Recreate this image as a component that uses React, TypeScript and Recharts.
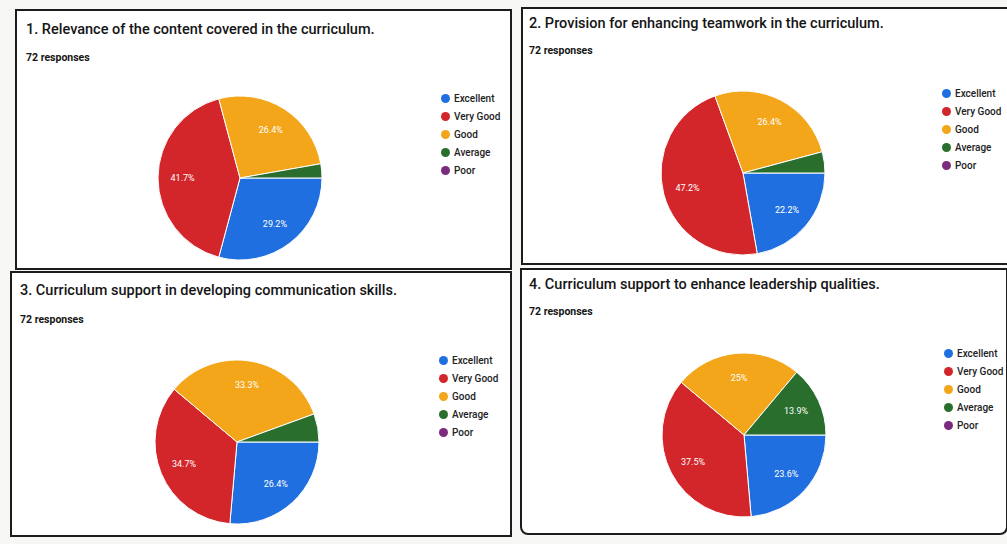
import React from 'react';
import { PieChart, Pie, Cell, Legend } from 'recharts';

const categories = ['Excellent', 'Very Good', 'Good', 'Average', 'Poor'];
const colors = ['#1f6fe0', '#d3262b', '#f3a619', '#2a6e2e', '#7b2b7d'];

const titles = [
  '1. Relevance of the content covered in the curriculum.',
  '2. Provision for enhancing teamwork in the curriculum.',
  '3. Curriculum support in developing communication skills.',
  '4. Curriculum support to enhance leadership qualities.',
];
const responses = ['72 responses', '72 responses', '72 responses', '72 responses'];

// counts out of 72, order: Excellent, Very Good, Good, Average, Poor
const q1Values = [21, 30, 19, 2, 0];
const q2Values = [16, 34, 19, 3, 0];
const q3Values = [19, 25, 24, 4, 0];
const q4Values = [17, 27, 18, 10, 0];
const allValues = [q1Values, q2Values, q3Values, q4Values];

type PanelLayout = {
  left: number; top: number; width: number; height: number;
  titleX: number; titleY: number; respY: number;
  cx: number; cy: number; legendX: number; legendY: number;
  radius?: string;
};

const layouts: PanelLayout[] = [
  { left: 15, top: 9, width: 497, height: 261, titleX: 9, titleY: 10, respY: 40, cx: 223, cy: 167, legendX: 424, legendY: 79 },
  { left: 521, top: 7, width: 492, height: 258, titleX: 6, titleY: 6, respY: 35, cx: 220, cy: 164, legendX: 419, legendY: 76 },
  { left: 10, top: 271, width: 502, height: 266, titleX: 8, titleY: 9, respY: 40, cx: 225, cy: 169, legendX: 427, legendY: 79 },
  { left: 520, top: 268, width: 488, height: 267, titleX: 7, titleY: 6, respY: 35, cx: 222, cy: 165, legendX: 422, legendY: 75, radius: '0 0 8px 8px' },
];

const RAD = Math.PI / 180;

const renderLabel = (props: any) => {
  const { cx, cy, midAngle, outerRadius, percent } = props;
  if (!percent || percent < 0.06) return null;
  const r = outerRadius * 0.7;
  const x = cx + r * Math.cos(-midAngle * RAD);
  const y = cy + r * Math.sin(-midAngle * RAD);
  const txt = `${(Math.round(percent * 1000) / 10).toString()}%`;
  return (
    <text x={x} y={y} fill="#ffffff" fontSize={9} fontFamily="Roboto, Arial, sans-serif" textAnchor="middle" dominantBaseline="central">
      {txt}
    </text>
  );
};

const LegendContent = (props: any) => {
  const { payload } = props;
  return (
    <div style={{ fontFamily: 'Roboto, Arial, sans-serif' }}>
      {(payload || []).map((p: any, i: number) => (
        <div key={i} style={{ display: 'flex', alignItems: 'center', height: 17.8 }}>
          <span style={{ width: 9, height: 9, borderRadius: '50%', background: p.color, display: 'inline-block', marginRight: 4 }} />
          <span style={{ fontSize: 10, fontWeight: 500, color: '#222', whiteSpace: 'nowrap' }}>{p.value}</span>
        </div>
      ))}
    </div>
  );
};

const Panel = ({ idx }: { idx: number }) => {
  const L = layouts[idx];
  const data = categories.map((c, i) => ({ name: c, value: allValues[idx][i] }));
  return (
    <div
      style={{
        position: 'absolute', left: L.left, top: L.top, width: L.width, height: L.height,
        border: '2px solid #1c1c1c', boxSizing: 'border-box', background: '#fff', overflow: 'hidden',
        borderRadius: L.radius || 0,
      }}
    >
      <div style={{ position: 'absolute', left: L.titleX, top: L.titleY, fontFamily: 'Roboto, Arial, sans-serif', fontSize: 14.5, fontWeight: 500, color: '#151515', whiteSpace: 'nowrap', zIndex: 2 }}>
        {titles[idx]}
      </div>
      <div style={{ position: 'absolute', left: L.titleX, top: L.respY, fontFamily: 'Roboto, Arial, sans-serif', fontSize: 10.5, fontWeight: 700, color: '#151515', whiteSpace: 'nowrap', zIndex: 2 }}>
        {responses[idx]}
      </div>
      <PieChart
        width={L.width - 4}
        height={L.height - 4}
        margin={{ top: 0, right: 0, bottom: 0, left: 0 }}
        style={{ position: 'absolute', left: 0, top: 0 }}
      >
        <Pie
          data={data}
          dataKey="value"
          nameKey="name"
          cx={L.cx}
          cy={L.cy}
          outerRadius={82}
          startAngle={0}
          endAngle={-360}
          stroke="#ffffff"
          strokeWidth={1}
          label={renderLabel}
          labelLine={false}
          isAnimationActive={false}
        >
          {data.map((d, i) => (
            <Cell key={d.name} fill={colors[i]} />
          ))}
        </Pie>
        <Legend
          itemSorter={null as any}
          content={<LegendContent />}
          wrapperStyle={{ position: 'absolute', left: L.legendX, top: L.legendY, width: 'auto' }}
        />
      </PieChart>
    </div>
  );
};

export default function App() {
  return (
    <div style={{ position: 'fixed', left: 0, top: 0, width: 1007, height: 544, background: '#f7f7f5', overflow: 'hidden' }}>
      {[0, 1, 2, 3].map((i) => (
        <Panel key={i} idx={i} />
      ))}
    </div>
  );
}
